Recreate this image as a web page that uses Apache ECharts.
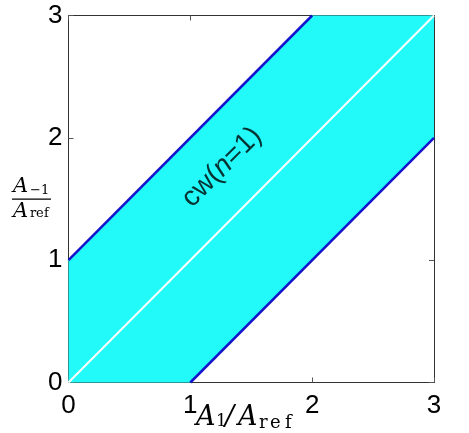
<!DOCTYPE html>
<html><head><meta charset="utf-8">
<script src="https://cdn.jsdelivr.net/npm/echarts@6/dist/echarts.min.js"></script>
<style>html,body{margin:0;padding:0;background:#fff}#c{width:469px;height:433px}</style>
</head><body><div id="c"></div>
<script>
// Data
const tickValues = [0, 1, 2, 3];
const bandX = [0, 0, 2, 3, 3, 1];
const bandY = [0, 1, 3, 3, 2, 0];
const upperX = [0, 2], upperY = [1, 3];
const lowerX = [1, 3], lowerY = [0, 2];
const diagX = [0, 3], diagY = [0, 3];
const annotation = { x: 1.26, y: 1.76, text: 'cw(n=1)' };

const zip = (xs, ys) => xs.map((x, i) => [x, ys[i]]);
const bandData = zip(bandX, bandY);

const chart = echarts.init(document.getElementById('c'));
const axisCommon = {
  type: 'value', min: tickValues[0], max: tickValues[tickValues.length - 1], interval: 1,
  splitLine: { show: false },
  axisLine: { show: true, onZero: false, lineStyle: { color: '#333', width: 1 } },
  axisTick: { show: true, inside: true, length: 5, lineStyle: { color: '#555' } }
};
const labelStyle = { color: '#000', fontSize: 26, fontFamily: 'Liberation Sans, Arial, sans-serif' };
const serif = '"DejaVu Serif", "Liberation Serif", serif';
const t = (left, top, text, font) => ({ type: 'text', left, top, style: { text, font: font + ' ' + serif, fill: '#000' } });

chart.setOption({
  animation: false,
  grid: { left: 68.5, right: 35, top: 15.5, bottom: 50.5 },
  xAxis: [
    Object.assign({}, axisCommon, { position: 'bottom', axisLabel: Object.assign({ margin: 10 }, labelStyle) }),
    Object.assign({}, axisCommon, { position: 'top', axisLabel: { show: false } })
  ],
  yAxis: [
    Object.assign({}, axisCommon, { position: 'left', axisLabel: Object.assign({ margin: 6, padding: [3, 0, 0, 0] }, labelStyle) }),
    Object.assign({}, axisCommon, { position: 'right', axisLabel: { show: false } })
  ],
  series: [
    {
      type: 'custom', xAxisIndex: 0, yAxisIndex: 0, data: bandData, z: 1,
      renderItem: (params, api) => {
        if (params.dataIndex !== 0) return null;
        return { type: 'polygon', shape: { points: bandData.map(p => api.coord(p)) }, style: { fill: '#22FAFA' } };
      }
    },
    { type: 'line', data: zip(upperX, upperY), symbol: 'none', lineStyle: { color: '#1414CC', width: 2.5 }, z: 3 },
    { type: 'line', data: zip(lowerX, lowerY), symbol: 'none', lineStyle: { color: '#1414CC', width: 2.5 }, z: 3 },
    { type: 'line', data: zip(diagX, diagY), symbol: 'none', lineStyle: { color: '#ffffff', width: 2 }, z: 3 },
    {
      type: 'scatter', data: [[annotation.x, annotation.y]], symbolSize: 0, z: 5, silent: true,
      label: {
        show: true, position: 'inside', rotate: 45,
        formatter: '{a|cw(}{b|n}{a|=1)}',
        rich: {
          a: { fontSize: 28, color: '#000', fontFamily: 'Liberation Sans, Arial, sans-serif' },
          b: { fontSize: 28, color: '#000', fontStyle: 'italic', fontFamily: 'Liberation Sans, Arial, sans-serif' }
        }
      }
    }
  ],
  graphic: [
    // y-axis label: A_{-1} / A_ref
    t(13, 176, 'A', 'italic 21px'),
    t(30, 184, '−1', '13px'),
    { type: 'rect', shape: { x: 12, y: 198.5, width: 39, height: 1.2 }, style: { fill: '#000' } },
    t(13, 201, 'A', 'italic 21px'),
    t(30, 207, 'r', '13px'), t(36, 207, 'e', '13px'), t(44, 207, 'f', '13px'),
    // x-axis label: A_1 / A_ref
    t(196, 404, 'A', 'italic 27px'),
    t(216, 413, '1', '17px'),
    t(225, 404, '/', 'italic 27px'),
    t(238, 404, 'A', 'italic 27px'),
    t(259, 414, 'r', '18px'), t(270, 414, 'e', '18px'), t(285, 414, 'f', '18px')
  ]
});
</script></body></html>
